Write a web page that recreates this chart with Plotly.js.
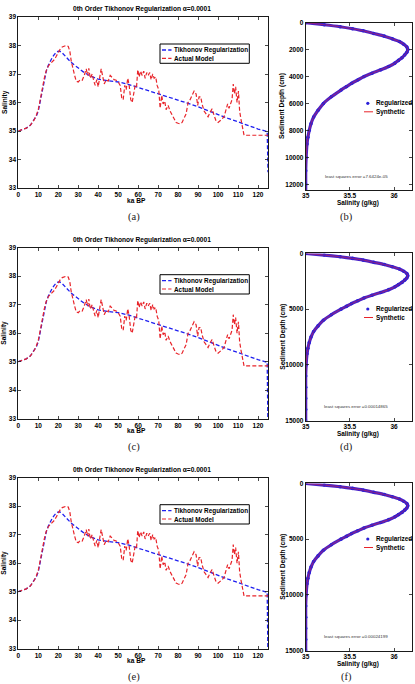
<!DOCTYPE html>
<html>
<head>
<meta charset="utf-8">
<script src="https://cdn.plot.ly/plotly-3.0.1.min.js"></script>
<style>
  html, body { margin: 0; padding: 0; background: #fff; }
  #chart { width: 415px; height: 684px; }
</style>
</head>
<body>
<div id="chart"></div>
<script>
// ---- Salinity history (ka BP) ----
const actualKa = [
  0, 2, 4, 6, 8, 9, 10, 11, 12, 13, 14, 15, 16, 17, 18, 19, 20, 21, 22, 23, 24, 25,
  25.8, 26.5, 27.3, 28.2, 29, 30, 31, 32, 33, 34, 34.7, 35.3, 36, 37, 37.8, 38.5, 39.3,
  40, 40.8, 41.5, 42.3, 43, 44, 45, 46, 47, 48, 49, 50, 51, 51.8, 52.5, 53.3, 54, 54.8,
  55.5, 56.3, 57, 57.8, 58.5, 59.2, 59.8, 60.5, 61.2, 62, 62.8, 63.5, 64.3, 65, 65.8,
  66.5, 67.3, 68, 68.8, 69.5, 70.3, 71, 71.8, 72.5, 73.3, 74, 75, 76, 77, 78, 79, 80,
  81, 82, 83, 84, 85, 86, 87, 88, 89, 89.8, 90.5, 91.3, 92, 93, 94, 95, 96, 97, 98, 99,
  100, 101, 102, 103, 104, 104.8, 105.5, 106.3, 107, 107.6, 108.2, 108.8, 109.5, 110.2,
  110.8, 111.5, 112.3, 113, 125
];
const actualSal = [
  35.00, 35.04, 35.10, 35.20, 35.40, 35.55, 35.75, 36.10, 36.50, 36.85, 37.12, 37.28, 37.36, 37.42, 37.50, 37.62, 37.75, 37.88, 37.95, 37.98, 38.00, 37.97,
  37.80, 37.45, 37.15, 36.95, 36.75, 36.72, 36.80, 36.78, 36.95, 37.18, 36.95, 37.20, 36.85, 37.00, 36.75, 36.60, 36.80,
  36.55, 36.90, 37.18, 36.90, 36.65, 36.80, 36.75, 36.95, 36.88, 36.80, 36.78, 36.72, 36.60, 36.15, 36.10, 36.60, 36.45, 36.85,
  36.60, 36.10, 36.00, 36.30, 36.60, 36.55, 37.15, 36.90, 37.10, 36.95, 37.10, 36.85, 37.05, 36.95, 37.05,
  36.80, 37.00, 36.85, 36.90, 36.60, 36.45, 35.80, 36.25, 35.95, 36.05, 35.75, 35.90, 35.70, 35.55, 35.40, 35.30, 35.27,
  35.25, 35.30, 35.45, 35.60, 36.00, 36.10, 36.25, 36.40, 36.30, 35.90, 36.20, 36.20, 35.95, 35.70, 35.60, 35.50, 35.65, 35.78, 35.55, 35.35,
  35.30, 35.35, 35.42, 35.50, 35.80, 35.95, 35.80, 35.95, 36.10, 36.65, 36.30, 36.55, 36.00, 36.40,
  35.70, 35.40, 35.10, 34.85, 34.85
];
const tikhonovKa = [
  0, 2, 4, 6, 8, 9, 10, 11, 12, 13, 14, 15, 16, 17, 18, 19, 20, 21, 22, 23, 24,
  26, 28, 30, 33, 36, 40, 45, 50, 55, 60, 65, 70, 75, 80, 85, 90, 95, 100, 105, 110, 115, 120, 124.6
];
const tikhonovSal = [
  35.00, 35.04, 35.10, 35.20, 35.40, 35.52, 35.70, 36.05, 36.45, 36.85, 37.10, 37.30, 37.45, 37.58, 37.68, 37.76, 37.80, 37.79, 37.74, 37.66, 37.58,
  37.44, 37.32, 37.20, 37.05, 36.93, 36.82, 36.76, 36.72, 36.64, 36.53, 36.43, 36.32, 36.21, 36.09, 35.97, 35.85, 35.71, 35.56, 35.44, 35.32, 35.19, 35.07, 34.98
];
// last regularized sample of each run (drops off at the oldest time step)
const tikhonovEndKa = 125;
const tikhonovEndSal = [33.55, 32.5, 32.5];

// ---- Pore-water salinity profiles ----
const profileDepth = [
  0, 150, 300, 450, 600, 800, 1000, 1200, 1400, 1600, 1800,
  2000, 2200, 2400, 2600, 2800, 3000,
  3250, 3500, 3750, 4000, 4250, 4500, 4750, 5000,
  5500, 6000, 6500, 7000, 7500, 8000, 8500, 9000,
  10000, 11000, 12000, 13000, 14000, 15000
];
const profileSal = [
  35.00, 35.21, 35.39, 35.53, 35.65, 35.77, 35.89, 35.98, 36.06, 36.11, 36.145,
  36.155, 36.145, 36.12, 36.09, 36.05, 36.01,
  35.94, 35.85, 35.75, 35.66, 35.59, 35.52, 35.46, 35.40,
  35.29, 35.20, 35.14, 35.09, 35.06, 35.04, 35.025, 35.015,
  35.005, 35.0, 35.0, 35.0, 35.0, 35.0
];

// ---- Text ----
const panelTitle = '0th Order Tikhonov Regularization α=0.0001';
const historyNames = ['Tikhonov Regularization', 'Actual Model'];
const profileNames = ['Regularized', 'Synthetic'];
const lsqErrors = ['7.6424e-05', '0.00014865', '0.00024199'];
const captions = [['(a)', '(b)'], ['(c)', '(d)'], ['(e)', '(f)']];
const kaTicks = [0, 10, 20, 30, 40, 50, 60, 70, 80, 90, 100, 110, 120];
const salTicks = [33, 34, 35, 36, 37, 38, 39];
const profSalTicks = [35, 35.5, 36];
const profSalLabels = ['35', '35.5', '36'];
const depthTicks = [
  [0, 2000, 4000, 6000, 8000, 10000, 12000],
  [0, 5000, 10000, 15000],
  [0, 5000, 10000, 15000]
];
const depthMax = [12420, 15000, 15000];

// ---- Page geometry (pixels) ----
const W = 415, H = 684;
const fx = p => p / W;
const fy = p => 1 - p / H;
const FONT = 'Liberation Sans, Arial, Helvetica, sans-serif';
const BLUE = '#1f1ff0';
const RED = '#e8242a';
const rowOff = [0, 230.7, 460.7];
const profLegendY = [103.3, 309, 539];

const axisBase = {
  showline: true, mirror: 'allticks', linecolor: '#1a1a1a', linewidth: 1,
  ticks: 'inside', ticklen: 3, tickcolor: '#1a1a1a', tickwidth: 0.8,
  showgrid: false, zeroline: false, fixedrange: true,
  tickfont: { family: FONT, size: 6.5, color: '#000', weight: 'bold' }
};

const traces = [];
const layout = {
  width: W, height: H,
  margin: { l: 0, r: 0, t: 0, b: 0 },
  paper_bgcolor: '#fff', plot_bgcolor: '#fff',
  showlegend: false,
  annotations: [], shapes: []
};

function text(str, x, y, o) {
  o = o || {};
  return {
    text: str, x: fx(x), y: fy(y), xref: 'paper', yref: 'paper',
    showarrow: false, xanchor: o.xanchor || 'center', yanchor: 'middle',
    textangle: o.angle || 0, borderpad: 0,
    font: { family: o.family || FONT, size: o.size || 6.5, color: o.color || '#000', weight: o.weight || 'bold' }
  };
}

for (let r = 0; r < 3; r++) {
  const off = rowOff[r];
  const xl = r === 0 ? 'x' : 'x' + (2 * r + 1);
  const yl = r === 0 ? 'y' : 'y' + (2 * r + 1);
  const xr = 'x' + (2 * r + 2);
  const yr = 'y' + (2 * r + 2);
  const kl = r === 0 ? '' : String(2 * r + 1);
  const kr = String(2 * r + 2);

  // left: salinity history
  const lTop = 17 + off, lBot = 188 + off;
  layout['xaxis' + kl] = Object.assign({}, axisBase, {
    domain: [fx(18.3), fx(268)], range: [0, 125], tickvals: kaTicks, anchor: yl
  });
  layout['yaxis' + kl] = Object.assign({}, axisBase, {
    domain: [fy(lBot), fy(lTop)], range: [33, 39], tickvals: salTicks, anchor: xl
  });
  traces.push({
    type: 'scatter', mode: 'lines', xaxis: xl, yaxis: yl, name: historyNames[0],
    x: tikhonovKa.concat([tikhonovEndKa]), y: tikhonovSal.concat([tikhonovEndSal[r]]),
    line: { color: BLUE, width: 1.3, dash: '4px,2.2px' }
  });
  traces.push({
    type: 'scatter', mode: 'lines', xaxis: xl, yaxis: yl, name: historyNames[1],
    x: actualKa, y: actualSal,
    line: { color: RED, width: 1.2, dash: '4px,2.2px' }
  });

  // right: depth profile
  const rTop = 22.7 + off, rBot = 190 + off;
  layout['xaxis' + kr] = Object.assign({}, axisBase, {
    domain: [fx(305.7), fx(411.7)], range: [35, 36.2],
    tickvals: profSalTicks, ticktext: profSalLabels, anchor: yr, ticklabelstandoff: -1
  });
  layout['yaxis' + kr] = Object.assign({}, axisBase, {
    domain: [fy(rBot), fy(rTop)], range: [depthMax[r], 0],
    tickvals: depthTicks[r], ticktext: depthTicks[r].map(String), anchor: xr
  });
  traces.push({
    type: 'scatter', mode: 'lines', xaxis: xr, yaxis: yr, showlegend: false,
    x: profileSal, y: profileDepth,
    line: { color: '#4a22c8', width: 3.2, shape: 'spline', smoothing: 0.6 }
  });
  traces.push({
    type: 'scatter', mode: 'markers', xaxis: xr, yaxis: yr, name: profileNames[0],
    x: profileSal, y: profileDepth,
    marker: { color: '#2a1fd8', size: 3.6 }
  });
  traces.push({
    type: 'scatter', mode: 'lines', xaxis: xr, yaxis: yr, name: profileNames[1],
    x: profileSal, y: profileDepth,
    line: { color: 'rgba(232,36,42,0.55)', width: 0.9, shape: 'spline', smoothing: 0.6 }
  });

  // titles and axis labels
  const A = layout.annotations;
  A.push(text(panelTitle, 142, 9.3 + off, { size: 6.6 }));
  A.push(text('ka BP', 136, 200 + off, { size: 6.6 }));
  A.push(text('Salinity', 4.5, (lTop + lBot) / 2, { size: 6.6, angle: -90 }));
  A.push(text('Salinity (g/kg)', 358.3, 203 + off, { size: 6.4 }));
  A.push(text('Sediment Depth (cm)', 282.7, (rTop + rBot) / 2, { size: 6.6, angle: -90 }));
  A.push(text('least squares error =' + lsqErrors[r], 356, 176 + off,
    { size: 4.4, weight: 'normal', color: '#333' }));
  A.push(text(captions[r][0], 134, 216.7 + off, { size: 10.5, weight: 'normal', family: 'Liberation Serif, DejaVu Serif, serif', color: '#222' }));
  A.push(text(captions[r][1], 346, 216.7 + off, { size: 10.5, weight: 'normal', family: 'Liberation Serif, DejaVu Serif, serif', color: '#222' }));

  // legend of the history panel (boxed)
  const S = layout.shapes;
  S.push({ type: 'rect', xref: 'paper', yref: 'paper', x0: fx(160), x1: fx(249.3), y0: fy(63.3 + off), y1: fy(44 + off),
    line: { color: '#000', width: 1 }, fillcolor: '#fff' });
  S.push({ type: 'line', xref: 'paper', yref: 'paper', x0: fx(162), x1: fx(171.5), y0: fy(50 + off), y1: fy(50 + off),
    line: { color: BLUE, width: 1.3, dash: '4px,2.2px' } });
  S.push({ type: 'line', xref: 'paper', yref: 'paper', x0: fx(162), x1: fx(171.5), y0: fy(58.3 + off), y1: fy(58.3 + off),
    line: { color: RED, width: 1.2, dash: '4px,2.2px' } });
  A.push(text(historyNames[0], 173.3, 50 + off, { xanchor: 'left', size: 6.4 }));
  A.push(text(historyNames[1], 173.3, 58.3 + off, { xanchor: 'left', size: 6.4 }));

  // legend of the profile panel
  const ly = profLegendY[r];
  S.push({ type: 'circle', xref: 'paper', yref: 'paper', x0: fx(366.2), x1: fx(369.4), y0: fy(ly + 1.6), y1: fy(ly - 1.6),
    line: { width: 0 }, fillcolor: '#2a1fd8' });
  S.push({ type: 'line', xref: 'paper', yref: 'paper', x0: fx(364), x1: fx(373), y0: fy(ly + 8.5), y1: fy(ly + 8.5),
    line: { color: RED, width: 1 } });
  A.push(text(profileNames[0], 375, ly, { xanchor: 'left', size: 6.4 }));
  A.push(text(profileNames[1], 375, ly + 8.5, { xanchor: 'left', size: 6.4 }));
}

Plotly.newPlot('chart', traces, layout, { staticPlot: true, displayModeBar: false });
</script>
</body>
</html>
